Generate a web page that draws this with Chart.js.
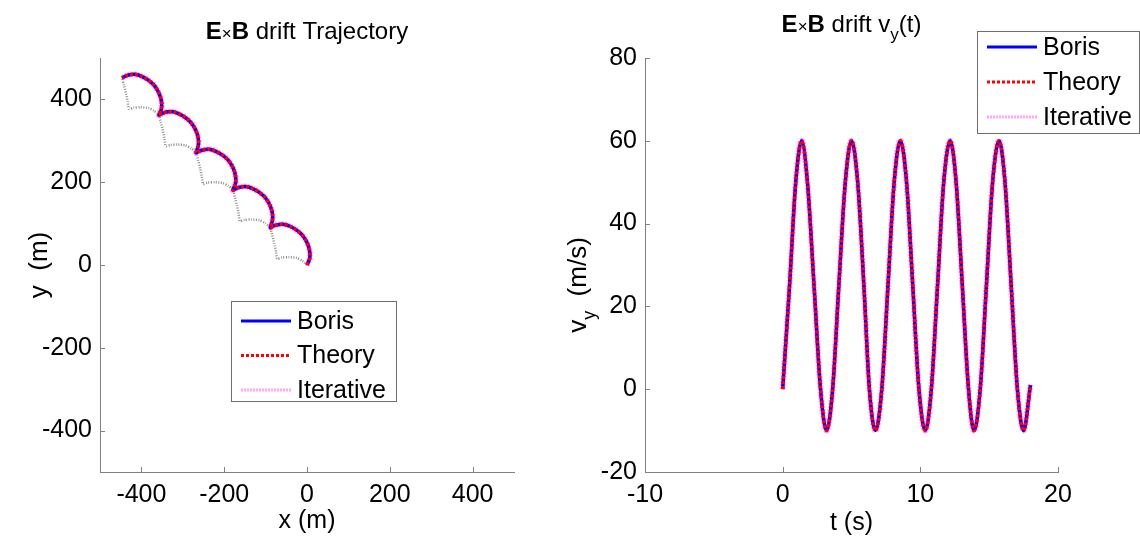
<!DOCTYPE html>
<html>
<head>
<meta charset="utf-8">
<script src="https://cdn.jsdelivr.net/npm/chart.js@4.4.0/dist/chart.umd.min.js"></script>
<style>
  body { margin: 0; background: #fff; }
  #wrap { position: relative; width: 1140px; height: 540px; }
  canvas { position: absolute; top: 0; }
  #traj { left: 0; }
  #vel { left: 540px; }
</style>
</head>
<body>
<div id="wrap">
  <canvas id="traj" width="540" height="540"></canvas>
  <canvas id="vel" width="600" height="540"></canvas>
</div>
<script>
// trajectory in the x-y plane (m), five gyration arcs drifting up-left
var posX = [0, 6, 7, 4, -3, -13, -26, -40, -54, -67, -79, -89,
  -84, -83, -86, -93, -103, -116, -130, -144, -157, -169, -179,
  -173, -172, -175, -182, -192, -205, -219, -233, -246, -258, -268,
  -263, -262, -265, -272, -282, -295, -309, -323, -336, -348, -358,
  -352, -351, -354, -361, -371, -384, -398, -412, -425, -437, -447];
var posY = [0, 14, 28, 44, 60, 74, 85, 93, 98, 98, 95, 90,
  105, 119, 135, 151, 165, 176, 184, 189, 189, 186, 181,
  195, 209, 225, 241, 255, 266, 274, 279, 279, 276, 271,
  286, 300, 316, 332, 346, 357, 365, 370, 370, 367, 362,
  376, 390, 406, 422, 436, 447, 455, 460, 460, 457, 452];

// second (dotted grey) path between the same cusps
var greyX = [0, -11, -25, -44, -61, -72, -75, -79, -84, -89,
  -101, -115, -134, -151, -162, -165, -169, -174, -179,
  -190, -204, -223, -240, -251, -254, -258, -263, -268,
  -280, -294, -313, -330, -341, -344, -348, -353, -358,
  -369, -383, -402, -419, -430, -433, -437, -442, -447];
var greyY = [0, 10, 17, 19, 18, 15, 32, 52, 72, 90,
  101, 108, 110, 109, 106, 123, 143, 163, 181,
  191, 198, 200, 199, 196, 213, 233, 253, 271,
  282, 289, 291, 290, 287, 304, 324, 344, 362,
  372, 379, 381, 380, 377, 394, 414, 434, 452];

// v_y against time
var timeS = [0, 0.5, 0.95, 1.38, 1.8, 2.28, 2.75, 3.19, 3.63, 4.08, 4.55, 5.0, 5.45, 5.9,
  6.3, 6.74, 7.2, 7.65, 8.1, 8.55, 9.0, 9.45, 9.9, 10.36, 10.8, 11.25, 11.7, 12.17,
  12.6, 13.05, 13.5, 13.9, 14.35, 14.8, 15.25, 15.72, 16.15, 16.6, 17.05, 17.5, 18.0];
var vyValues = [0, 25, 50, 60, 50, 25, 0, -10, 0, 25, 50, 60, 50, 25,
  0, -10, 0, 25, 50, 60, 50, 25, 0, -10, 0, 25, 50, 60,
  50, 25, 0, -10, 0, 25, 50, 60, 50, 25, 0, -10, 1];

var posTicks = [-400, -200, 0, 200, 400];
var tTicks = [-10, 0, 10, 20];
var vTicks = [-20, 0, 20, 40, 60, 80];
var legendNames = ['Boris', 'Theory', 'Iterative'];

var FONT = '"Liberation Sans", Arial, sans-serif';
var axisGrey = '#808080';

var styles = {
  Boris: { borderColor: '#0000ff', borderWidth: 3.5 },
  Theory: { borderColor: '#ff0000', borderWidth: 3.5, borderDash: [3, 2] },
  Iterative: { borderColor: '#ffa6ff', borderWidth: 6, borderDash: [2, 1] }
};

function pairs(xs, ys) {
  return xs.map(function (x, i) { return { x: x, y: ys[i] }; });
}

function lineSet(label, xs, ys, style, extra) {
  return Object.assign({
    label: label,
    data: pairs(xs, ys),
    showLine: true,
    pointRadius: 0,
    fill: false
  }, style, extra || {});
}

function fixedTicks(list) {
  return function (axis) {
    axis.ticks = list.map(function (v) { return { value: v }; });
  };
}

function axisOpts(min, max, list, fit) {
  return {
    type: 'linear',
    min: min,
    max: max,
    afterBuildTicks: fixedTicks(list),
    afterFit: fit,
    grid: { display: true, drawOnChartArea: false, drawTicks: false },
    border: { display: true, color: axisGrey, width: 1 },
    ticks: { color: '#000', font: { family: FONT, size: 25 }, padding: 8, maxRotation: 0 }
  };
}

// draw a run of text pieces (bold, small, subscript) centred on cx
function drawRuns(ctx, runs, cx, base) {
  var total = 0;
  runs.forEach(function (r) { ctx.font = r.f; r.w = ctx.measureText(r.t).width; total += r.w; });
  var x = cx - total / 2;
  ctx.textAlign = 'left';
  ctx.textBaseline = 'alphabetic';
  runs.forEach(function (r) {
    ctx.font = r.f;
    ctx.fillText(r.t, x, base + (r.dy || 0));
    x += r.w;
  });
}

function reg(s) { return s + 'px ' + FONT; }
function bold(s) { return 'bold ' + s + 'px ' + FONT; }

var decor = {
  id: 'decor',
  afterDraw: function (chart, args, o) {
    var ctx = chart.ctx, a = chart.chartArea;
    var sx = chart.scales.x, sy = chart.scales.y;
    ctx.save();

    // inward tick marks
    ctx.strokeStyle = axisGrey;
    ctx.lineWidth = 1;
    ctx.beginPath();
    sx.ticks.forEach(function (t) {
      var p = Math.round(sx.getPixelForValue(t.value)) + 0.5;
      ctx.moveTo(p, a.bottom); ctx.lineTo(p, a.bottom - 5);
    });
    sy.ticks.forEach(function (t) {
      var p = Math.round(sy.getPixelForValue(t.value)) + 0.5;
      ctx.moveTo(a.left, p); ctx.lineTo(a.left + 5, p);
    });
    ctx.stroke();

    ctx.fillStyle = '#000';
    drawRuns(ctx, o.title, (a.left + a.right) / 2, o.titleBase);
    drawRuns(ctx, o.xTitle, (a.left + a.right) / 2, o.xTitleBase);
    ctx.save();
    ctx.translate(o.yTitleX, o.yTitleY);
    ctx.rotate(-Math.PI / 2);
    drawRuns(ctx, o.yTitle, 0, 0);
    ctx.restore();

    // legend box
    var L = o.legend;
    ctx.fillStyle = '#fff';
    ctx.fillRect(L.x, L.y, L.w, L.h);
    ctx.strokeStyle = '#6e6e6e';
    ctx.lineWidth = 1;
    ctx.strokeRect(L.x + 0.5, L.y + 0.5, L.w, L.h);
    legendNames.forEach(function (name, i) {
      var st = styles[name];
      var yy = L.rowY + i * L.step;
      ctx.save();
      ctx.strokeStyle = st.borderColor;
      ctx.lineWidth = 3;
      ctx.setLineDash(st.borderDash || []);
      ctx.beginPath();
      ctx.moveTo(L.x + 10, yy);
      ctx.lineTo(L.x + 60, yy);
      ctx.stroke();
      ctx.restore();
      ctx.fillStyle = '#000';
      ctx.font = reg(25);
      ctx.textAlign = 'left';
      ctx.textBaseline = 'middle';
      ctx.fillText(name, L.x + 66, yy + 1);
    });
    ctx.restore();
  }
};

function makeDatasets(xs, ys, extra) {
  // index 0 is painted last, so Theory sits on top of Boris
  return [
    lineSet('Theory', xs, ys, styles.Theory, extra),
    lineSet('Boris', xs, ys, styles.Boris, extra),
    lineSet('Iterative', xs, ys, styles.Iterative, extra)
  ];
}

var trajSets = makeDatasets(posX, posY, { tension: 0.3 });
trajSets.push(lineSet('grey', greyX, greyY,
  { borderColor: 'rgba(70,70,70,0.6)', borderWidth: 2.5, borderDash: [1, 1.5] }, { tension: 0.2 }));

new Chart(document.getElementById('traj'), {
  type: 'scatter',
  data: { datasets: trajSets },
  options: {
    responsive: false,
    animation: false,
    devicePixelRatio: 1,
    layout: { padding: { left: 0, top: 58, right: 26, bottom: 0 } },
    plugins: {
      legend: { display: false },
      tooltip: { enabled: false },
      decor: {
        title: [{ t: 'E', f: bold(24) }, { t: '\u00d7', f: reg(17) }, { t: 'B', f: bold(24) },
          { t: ' drift Trajectory', f: reg(24) }],
        titleBase: 39,
        xTitle: [{ t: 'x (m)', f: reg(25) }],
        xTitleBase: 528,
        yTitle: [{ t: 'y  (m)', f: reg(26) }],
        yTitleX: 47,
        yTitleY: 265,
        legend: { x: 231, y: 301, w: 165, h: 100, rowY: 321, step: 34.5 }
      }
    },
    scales: {
      x: axisOpts(-500, 500, posTicks, function (s) { s.height = 68; }),
      y: axisOpts(-500, 500, posTicks, function (s) { s.width = 100; })
    }
  },
  plugins: [decor]
});

new Chart(document.getElementById('vel'), {
  type: 'scatter',
  data: { datasets: makeDatasets(timeS, vyValues, { cubicInterpolationMode: 'monotone' }) },
  options: {
    responsive: false,
    animation: false,
    devicePixelRatio: 1,
    layout: { padding: { left: 0, top: 58, right: 82, bottom: 0 } },
    plugins: {
      legend: { display: false },
      tooltip: { enabled: false },
      decor: {
        title: [{ t: 'E', f: bold(24) }, { t: '\u00d7', f: reg(17) }, { t: 'B', f: bold(24) },
          { t: ' drift v', f: reg(24) }, { t: 'y', f: reg(17), dy: 8 }, { t: '(t)', f: reg(24) }],
        titleBase: 32,
        xTitle: [{ t: 't (s)', f: reg(25) }],
        xTitleBase: 530,
        yTitle: [{ t: 'v', f: reg(26) }, { t: 'y', f: reg(18), dy: 9 }, { t: '  (m/s)', f: reg(26) }],
        yTitleX: 46,
        yTitleY: 285,
        legend: { x: 437, y: 31, w: 162, h: 102, rowY: 47, step: 35 }
      }
    },
    scales: {
      x: axisOpts(-10, 20, tTicks, function (s) { s.height = 68; }),
      y: axisOpts(-20, 80, vTicks, function (s) { s.width = 105; })
    }
  },
  plugins: [decor]
});
</script>
</body>
</html>
